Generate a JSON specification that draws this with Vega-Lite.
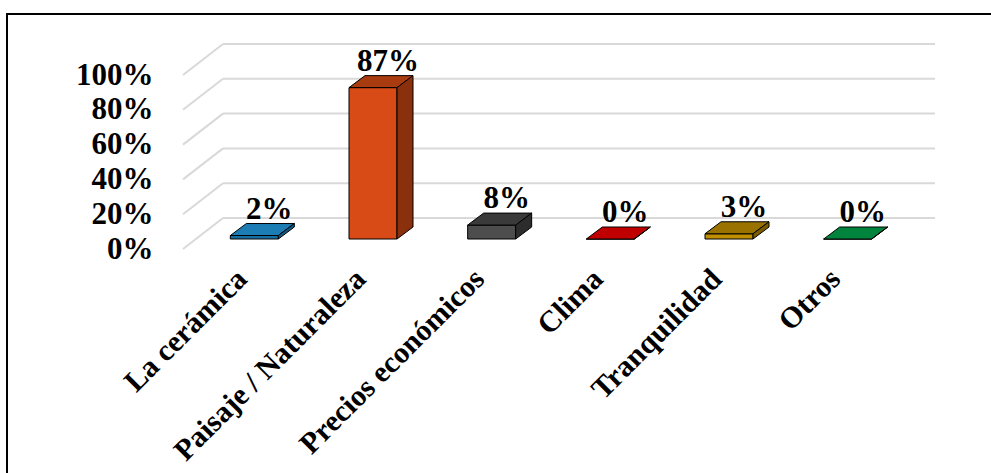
{
  "$schema": "https://vega.github.io/schema/vega-lite/v6.json",
  "width": 1100,
  "height": 600,
  "autosize": {"type": "none"},
  "padding": {"left": 7, "top": 14, "right": -116, "bottom": -141},
  "background": "#ffffff",
  "config": {
    "view": {"stroke": "#000000", "strokeWidth": 2},
    "font": "Liberation Serif"
  },
  "datasets": {
    "respuestas": [
      {"cat": "La cerámica", "pct": 0.02},
      {"cat": "Paisaje / Naturaleza", "pct": 0.87},
      {"cat": "Precios económicos", "pct": 0.08},
      {"cat": "Clima", "pct": 0.0},
      {"cat": "Tranquilidad", "pct": 0.03},
      {"cat": "Otros", "pct": 0.0}
    ],
    "niveles": [
      {"v": 0}, {"v": 0.2}, {"v": 0.4}, {"v": 0.6}, {"v": 0.8}, {"v": 1}
    ]
  },
  "data": {"name": "respuestas"},
  "resolve": {"scale": {"color": "independent"}},
  "layer": [
    {
      "data": {"name": "niveles"},
      "mark": {"type": "rule", "color": "#d9d9d9", "strokeWidth": 2, "xOffset": 40, "x2Offset": 40, "yOffset": -31, "y2Offset": -31},
      "encoding": {
        "x": {
          "datum": "La cerámica", "type": "nominal", "bandPosition": 0,
          "scale": {
            "domain": ["La cerámica", "Paisaje / Naturaleza", "Precios económicos", "Clima", "Tranquilidad", "Otros"],
            "range": [176, 888], "paddingInner": 0, "paddingOuter": 0
          },
          "axis": {
            "title": null, "orient": "bottom", "offset": -365, "domain": false, "ticks": false, "tickSize": 0,
            "labelAngle": -45, "labelAlign": "right", "labelBaseline": "middle", "labelPadding": 25,
            "labelFont": "Liberation Serif", "labelFontWeight": "bold", "labelFontSize": 30, "labelColor": "#000000",
            "labelOverlap": false, "labelLimit": 0
          }
        },
        "x2": {"datum": "Otros", "bandPosition": 1},
        "y": {
          "field": "v", "type": "quantitative",
          "scale": {"domain": [0, 1], "range": [235, 61], "nice": false, "zero": true},
          "axis": {
            "title": null, "orient": "left", "offset": -146, "domain": false, "ticks": false, "tickSize": 0, "grid": false,
            "values": [0, 0.2, 0.4, 0.6, 0.8, 1], "format": ".0%", "labelPadding": 0,
            "labelFont": "Liberation Serif", "labelFontWeight": "bold", "labelFontSize": 31, "labelColor": "#000000",
            "labelBaseline": "middle", "labelAlign": "right"
          }
        }
      }
    },
    {
      "data": {"name": "niveles"},
      "mark": {"type": "rule", "color": "#d9d9d9", "strokeWidth": 2, "x2Offset": 40, "y2Offset": -31},
      "encoding": {
        "x": {"datum": "La cerámica", "type": "nominal", "bandPosition": 0},
        "x2": {"datum": "La cerámica", "bandPosition": 0},
        "y": {"field": "v", "type": "quantitative"},
        "y2": {"field": "v"}
      }
    },
    {
      "mark": {"type": "bar", "width": 48, "xOffset": 12, "x2Offset": 12, "yOffset": -10, "y2Offset": -10, "stroke": "#000000", "strokeWidth": 1},
      "encoding": {
        "x": {"field": "cat", "type": "nominal", "sort": null},
        "y": {"field": "pct", "type": "quantitative"},
        "color": {
          "field": "cat", "type": "nominal", "legend": null,
          "scale": {
            "domain": ["La cerámica", "Paisaje / Naturaleza", "Precios económicos", "Clima", "Tranquilidad", "Otros"],
            "range": ["#1670a6", "#d84b16", "#4d4d4d", "#c00000", "#bf8f00", "#00863f"]
          }
        }
      }
    },
    {
      "mark": {"type": "point", "filled": true, "opacity": 1, "size": 4, "shape": "M-24,0L24,0L40,-12L-8,-12Z", "xOffset": 12, "yOffset": -10, "stroke": "#000000", "strokeWidth": 1, "strokeOpacity": 1},
      "encoding": {
        "x": {"field": "cat", "type": "nominal", "sort": null},
        "y": {"field": "pct", "type": "quantitative"},
        "color": {
          "field": "cat", "type": "nominal", "legend": null,
          "scale": {
            "domain": ["La cerámica", "Paisaje / Naturaleza", "Precios económicos", "Clima", "Tranquilidad", "Otros"],
            "range": ["#1c7db4", "#a93b10", "#3a3a3a", "#c00000", "#997200", "#00843d"]
          }
        }
      }
    },
    {
      "mark": {"type": "point", "filled": true, "opacity": 1, "size": 4, "xOffset": 12, "yOffset": -10, "stroke": "#000000", "strokeWidth": 1, "strokeOpacity": 1},
      "encoding": {
        "x": {"field": "cat", "type": "nominal", "sort": null},
        "y": {"field": "pct", "type": "quantitative"},
        "shape": {"value": {"expr": "'M24,0L40,-12L40,' + (scale('y', 0) - scale('y', datum.pct) - 12) + 'L24,' + (scale('y', 0) - scale('y', datum.pct)) + 'Z'"}},
        "color": {
          "field": "cat", "type": "nominal", "legend": null,
          "scale": {
            "domain": ["La cerámica", "Paisaje / Naturaleza", "Precios económicos", "Clima", "Tranquilidad", "Otros"],
            "range": ["#125a85", "#8a300d", "#2c2c2c", "#900000", "#7a5b00", "#006530"]
          }
        }
      }
    },
    {
      "mark": {"type": "text", "font": "Liberation Serif", "fontWeight": "bold", "fontSize": 31, "align": "center", "baseline": "alphabetic", "xOffset": 27, "yOffset": -27, "color": "#000000"},
      "encoding": {
        "x": {"field": "cat", "type": "nominal", "sort": null},
        "y": {"field": "pct", "type": "quantitative"},
        "text": {"field": "pct", "type": "quantitative", "format": ".0%"}
      }
    }
  ]
}
